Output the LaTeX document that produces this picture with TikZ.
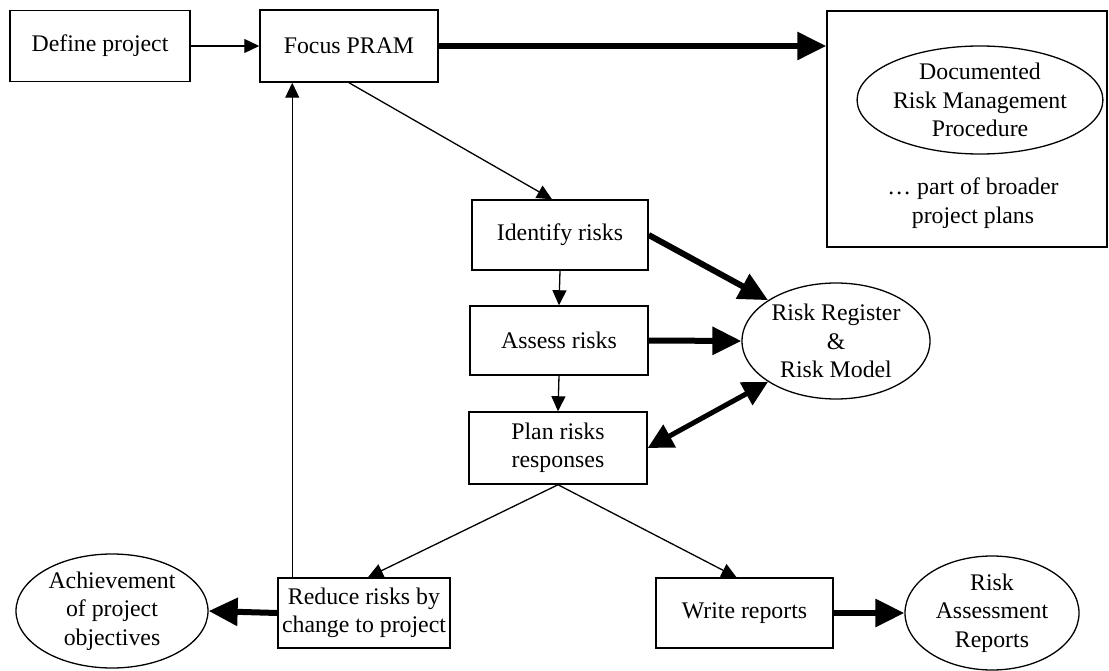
\documentclass[tikz,border=0pt]{standalone}
\usepackage{fontspec}
\setmainfont{Liberation Serif}
\usetikzlibrary{arrows.meta,shapes.geometric}

\newcommand\diagfont{\fontsize{23.8}{28.5}\selectfont}

\tikzset{
  procbox/.style={draw, line width=1.5pt, inner sep=0pt, align=center, font=\diagfont},
  outcome/.style={draw, ellipse, line width=1.3pt, inner sep=0pt, align=center, font=\diagfont},
  flow/.style={line width=1.3pt, -{Triangle[length=15pt,width=14pt]}},
  heavy/.style={line width=6pt, -{Triangle[length=29pt,width=27pt]}},
  heavyboth/.style={line width=5pt, {Triangle[length=25pt,width=25pt]}-{Triangle[length=25pt,width=25pt]}}
}

\begin{document}
\begin{tikzpicture}[x=1pt,y=-1pt]
\useasboundingbox (0,0) rectangle (1109,671);

% process boxes
\node[procbox, minimum width=180pt, minimum height=71pt] (define) at (100,46) {Define project};
\node[procbox, minimum width=178pt, minimum height=72pt] (focus) at (349,46) {Focus PRAM};
\node[procbox, minimum width=176pt, minimum height=70pt] (identify) at (560,235) {Identify risks};
\node[procbox, minimum width=178pt, minimum height=69pt] (assess) at (559,340.5) {Assess risks};
\node[procbox, minimum width=178pt, minimum height=72pt] (plan) at (558,448) {Plan risks\\responses};
\node[procbox, minimum width=172pt, minimum height=70pt] (reduce) at (364,613) {Reduce risks by\\change to project};
\node[procbox, minimum width=177pt, minimum height=70pt] (write) at (744.5,613) {Write reports};

% plans box with the procedure inside
\node[draw, line width=1.5pt, minimum width=280pt, minimum height=236pt, inner sep=0pt] (plans) at (967,129) {};
\node[outcome, minimum width=188pt, minimum height=108pt] (proc) at (980,100) {Documented\\Risk Management\\Procedure};
\node[align=center, font=\diagfont, inner sep=0pt] (broader) at (973,203) {\ldots{} part of broader\\project plans};

% outcome ellipses
\node[outcome, minimum width=188pt, minimum height=116pt] (register) at (836,341) {Risk Register\\\&\\Risk Model};
\node[outcome, minimum width=192pt, minimum height=114pt] (achieve) at (112,611) {Achievement\\of project\\objectives};
\node[outcome, minimum width=174pt, minimum height=114pt] (reports) at (992,613) {Risk\\Assessment\\Reports};

% helper points
\coordinate (loopstart) at ([xshift=15pt]reduce.north west);
\coordinate (focusin) at ([xshift=-8pt]identify.north);
\coordinate (writein) at ([xshift=-8pt]write.north);

% connectors
\draw[flow] (define.east) -- (focus.west);
\draw[heavy] (focus.east) -- (focus.east -| plans.west);
\draw[flow] (focus.south) -- (focusin);
\draw[flow] (identify.south) -- (assess.north);
\draw[flow] (assess.south) -- (plan.north);
\draw[heavy] (identify.east) -- (register.149);
\draw[heavy] (assess.east) -- (register.west);
\draw[heavyboth] (plan.east) -- (register.211);
\draw[flow] (plan.south) -- ([xshift=4pt]reduce.north);
\draw[flow] (plan.south) -- (writein);
\draw[flow] (loopstart) -- (loopstart |- focus.south);
\draw[heavy] (reduce.west) -- (achieve.east);
\draw[heavy] (write.east) -- (reports.west);
\end{tikzpicture}
\end{document}
